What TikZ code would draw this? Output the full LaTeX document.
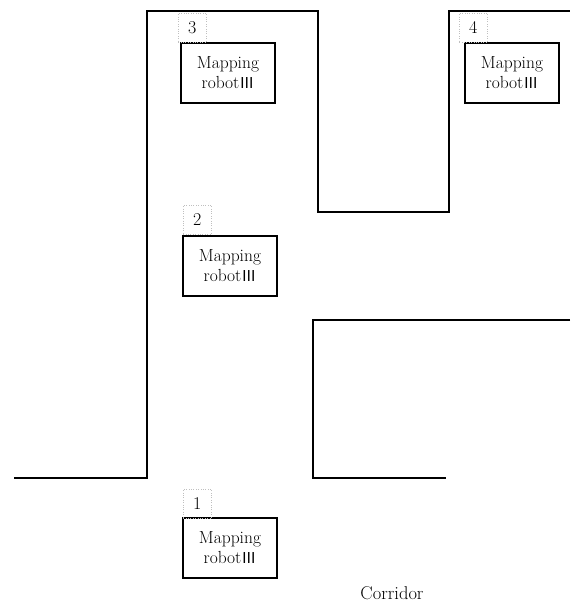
\documentclass[tikz,border=0pt]{standalone}
\usepackage{fontspec}
\newfontfamily\cjk{Noto Sans CJK SC}
\begin{document}
\begin{tikzpicture}[x=1pt,y=-1pt,
  wall/.style={line width=1.6pt},
  robot/.style={draw,line width=1.6pt,minimum width=94pt,minimum height=60pt,inner sep=0pt,align=center,font=\fontsize{17.5}{20}\selectfont},
  numbox/.style={draw=gray!50,dotted,minimum width=28pt,minimum height=29pt,inner sep=0pt,font=\fontsize{18}{20}\selectfont},
  txt/.style={font=\fontsize{18.5}{20}\selectfont}]
\useasboundingbox (0,0) rectangle (570,612);
% walls
\draw[wall] (14,478) -- (147,478) -- (147,11) -- (318,11) -- (318,212) -- (449,212) -- (449,11) -- (570,11);
\draw[wall] (570,320) -- (313,320) -- (313,478) -- (446,478);
% robots
\node[robot] (r1) at (230,548) {Mapping\\robot{\cjk\fontsize{15}{17}\selectfont Ⅲ}};
\node[robot] (r2) at (230,266) {Mapping\\robot{\cjk\fontsize{15}{17}\selectfont Ⅲ}};
\node[robot] (r3) at (228,73) {Mapping\\robot{\cjk\fontsize{15}{17}\selectfont Ⅲ}};
\node[robot] (r4) at (512,73) {Mapping\\robot{\cjk\fontsize{15}{17}\selectfont Ⅲ}};
% numbers
\node[numbox,anchor=south west] (n1) at (183,518) {1};
\node[numbox,anchor=south west] (n2) at (183,234) {2};
\node[numbox,anchor=south west] (n3) at (178,42) {3};
\node[numbox,anchor=south west] (n4) at (459,42) {4};
\node[txt] (c) at (392,593) {Corridor};
\end{tikzpicture}
\end{document}
